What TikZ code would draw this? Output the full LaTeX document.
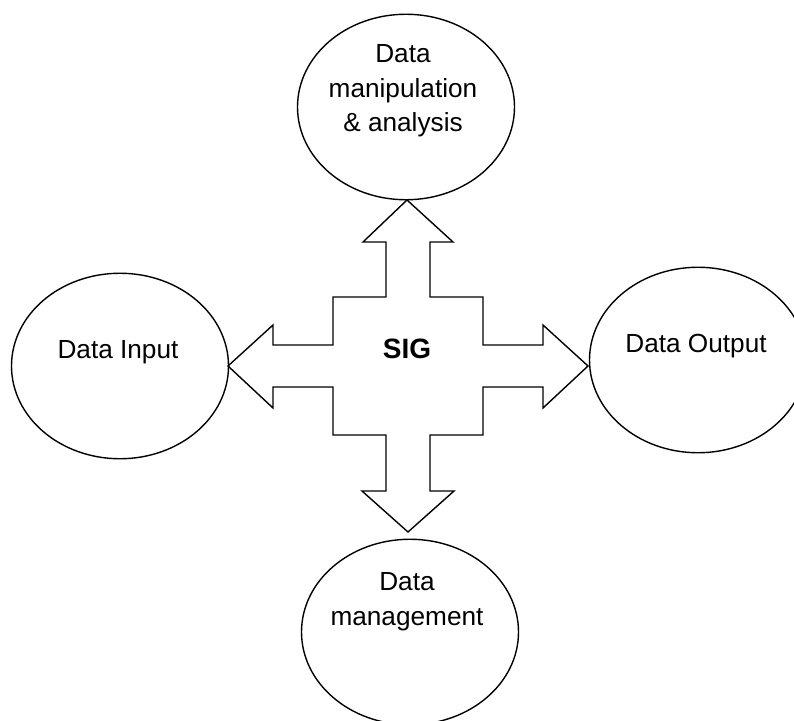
\documentclass[tikz,border=0pt]{standalone}
\usepackage{fontspec}
\setmainfont{Liberation Sans}
\usetikzlibrary{shapes.geometric}
\begin{document}
\begin{tikzpicture}[x=1bp, y=-1bp, line width=1.4bp,
    bubble/.style={draw, ellipse, inner sep=0pt, minimum width=217bp, minimum height=185.5bp},
    txt/.style={inner sep=0pt, align=center, font=\fontsize{26.2bp}{34.5bp}\selectfont}]
    \useasboundingbox (0,0) rectangle (794,721);

    % Bubbles
    \node[bubble] (analysis) at (406,107) {};
    \node[bubble] (input) at (120,366) {};
    \node[bubble] (output) at (698,360) {};
    \node[bubble] (management) at (410,632) {};

    % Texts in the bubbles
    \node[txt, anchor=north] (analysistxt) at ([xshift=-3bp, yshift=63bp]analysis.center) {Data\\manipulation\\\& analysis};
    \node[txt, anchor=base] (inputtxt) at ([xshift=-2bp, yshift=8bp]input.center) {Data Input};
    \node[txt, anchor=base] (outputtxt) at ([xshift=-2bp, yshift=8bp]output.center) {Data Output};
    \node[txt, anchor=north] (managementtxt) at ([xshift=-3bp, yshift=60bp]management.center) {Data\\management};

    % Four-way arrow
    \draw (407,200) -- (453,242) -- (430,242) -- (430,297) -- (483,297) -- (483,345)
        -- (543,345) -- (543,325) -- (588,366) -- (543,408) -- (543,387) -- (483,387)
        -- (483,435) -- (430,435) -- (430,491) -- (454,491) -- (408,532) -- (362,491)
        -- (386,491) -- (386,435) -- (333,435) -- (333,387) -- (273,387) -- (273,408)
        -- (228,366) -- (273,325) -- (273,345) -- (333,345) -- (333,297) -- (386,297)
        -- (386,242) -- (363,242) -- cycle;

    % Centre label
    \node[inner sep=0pt, anchor=base, font=\fontsize{28bp}{32bp}\selectfont\bfseries] (sig) at (407,358) {SIG};
\end{tikzpicture}
\end{document}
